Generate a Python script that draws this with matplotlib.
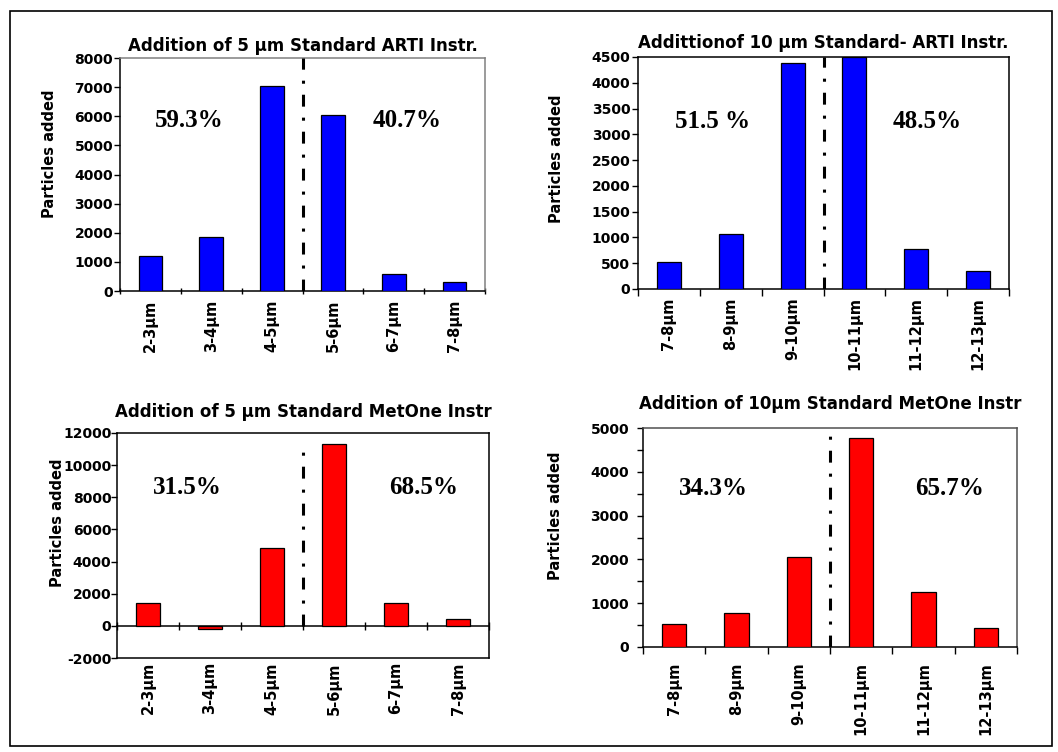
import matplotlib
matplotlib.use("Agg")
import matplotlib.pyplot as plt
from matplotlib.patches import Rectangle
from matplotlib.ticker import MultipleLocator

plt.rcParams['font.family'] = ['DejaVu Sans']
plt.rcParams['font.weight'] = 'bold'
plt.rcParams['axes.unicode_minus'] = False

# size classes and values
cats_5 = ['2-3µm', '3-4µm', '4-5µm', '5-6µm', '6-7µm', '7-8µm']
cats_10 = ['7-8µm', '8-9µm', '9-10µm', '10-11µm', '11-12µm', '12-13µm']
arti_5 = [1215, 1868, 7026, 6029, 585, 310]
arti_10 = [517, 1073, 4377, 4494, 776, 349]
metone_5 = [1420, -190, 4823, 11336, 1399, 418]
metone_10 = [524, 774, 2064, 4772, 1252, 432]
pct_arti_5 = ['59.3%', '40.7%']
pct_arti_10 = ['51.5 %', '48.5%']
pct_metone_5 = ['31.5%', '68.5%']
pct_metone_10 = ['34.3%', '65.7%']

W, H = 1058, 752
fig = plt.figure(figsize=(W / 100, H / 100), dpi=100)

# outer frame
fig.patches.append(Rectangle((10 / W, 6 / H), 1042 / W, 735 / H, transform=fig.transFigure,
                             fill=False, edgecolor='black', linewidth=1.2))


def axes_px(x0, y0, x1, y1):
    return fig.add_axes([x0 / W, (H - y1) / H, (x1 - x0) / W, (y1 - y0) / H])


def split_line(ax, ymin=0, ymax=1):
    ax.axvline(2.5, ymin=ymin, ymax=ymax, color='black', linewidth=2.2,
               linestyle=(0, (3.9, 3.6, 1.0, 3.6)), zorder=5)


def draw_panel(ax, cats, vals, color, title, title_pad, ylim, major, pcts, pct_pos,
               ylabel_x, ylabel_y, frame_color, xpad, ypad, xdir='out', minor=None):
    x = range(len(cats))
    ax.bar(x, vals, width=0.39, color=color, edgecolor='black', linewidth=0.9, zorder=3)
    ax.set_xlim(-0.5, len(cats) - 0.5)
    ax.set_ylim(*ylim)
    ax.yaxis.set_major_locator(MultipleLocator(major))
    if minor:
        ax.yaxis.set_minor_locator(MultipleLocator(minor))
    ax.set_xticks(list(x))
    ax.set_xticklabels(cats, rotation=90, fontsize=10.5, fontweight='bold')
    ax.set_xticks([i - 0.5 for i in range(len(cats) + 1)], minor=True)
    ax.tick_params(axis='x', which='major', length=0, pad=xpad)
    ax.tick_params(axis='x', which='minor', length=5, width=1, direction=xdir)
    ax.tick_params(axis='y', which='both', length=4, width=1, direction='out', pad=ypad,
                   labelsize=10)
    for lab in ax.get_yticklabels():
        lab.set_fontweight('bold')
    ax.set_title(title, fontsize=12, fontweight='bold', pad=title_pad)
    ax.set_ylabel('Particles added', fontsize=10.5, fontweight='bold')
    ax.yaxis.set_label_coords(ylabel_x, ylabel_y)
    for side in ['left', 'bottom']:
        ax.spines[side].set_color('black')
        ax.spines[side].set_linewidth(1.1)
    for side in ['top', 'right']:
        ax.spines[side].set_color(frame_color)
        ax.spines[side].set_linewidth(1.1)
    for txt, (px, py) in zip(pcts, pct_pos):
        ax.text(px, py, txt, transform=ax.transAxes, ha='center', va='center',
                fontsize=18, fontweight='bold', family=['Liberation Serif'])


# top left: ARTI, 5 um
ax1 = axes_px(120, 58, 485, 291)
draw_panel(ax1, cats_5, arti_5, '#0000FF', 'Addition of 5 µm Standard ARTI Instr.', 5,
           (0, 8000), 1000, pct_arti_5, [(0.19, 0.73), (0.786, 0.73)],
           -0.173, 0.59, '#808080', 6.5, 1, xdir='inout')
split_line(ax1)

# top right: ARTI, 10 um
ax2 = axes_px(638, 57, 1009, 289)
draw_panel(ax2, cats_10, arti_10, '#0000FF', 'Addittionof 10 µm Standard- ARTI Instr.', 6.5,
           (0, 4500), 500, pct_arti_10, [(0.20, 0.724), (0.78, 0.724)],
           -0.2, 0.56, 'black', 6, 1.5)
split_line(ax2)

# bottom left: MetOne, 5 um (category axis crosses at zero)
ax3 = axes_px(117, 433, 489, 658)
draw_panel(ax3, cats_5, metone_5, '#FF0000', 'Addition of 5 µm Standard MetOne Instr', 11.5,
           (-2000, 12000), 2000, pct_metone_5, [(0.19, 0.756), (0.825, 0.756)],
           -0.14, 0.60, 'black', 3, 0)
ax3.tick_params(axis='x', which='minor', length=0)
y0, y1 = ax3.get_ylim()
zero_frac = (0 - y0) / (y1 - y0)
sec = ax3.secondary_xaxis(zero_frac)
sec.set_xticks([i - 0.5 for i in range(len(cats_5) + 1)])
sec.set_xticklabels([])
sec.tick_params(axis='x', direction='inout', length=6, width=1)
sec.spines['bottom'].set_linewidth(1.1)
split_line(ax3, ymin=zero_frac, ymax=0.938)

# bottom right: MetOne, 10 um
ax4 = axes_px(643, 428, 1017, 647)
draw_panel(ax4, cats_10, metone_10, '#FF0000', 'Addition of 10µm Standard MetOne Instr', 14,
           (0, 5000), 1000, pct_metone_10, [(0.187, 0.726), (0.82, 0.726)],
           -0.214, 0.60, '#505050', 11, 6, minor=500)
split_line(ax4, ymax=0.99)

fig.savefig('out.png', dpi=100)
